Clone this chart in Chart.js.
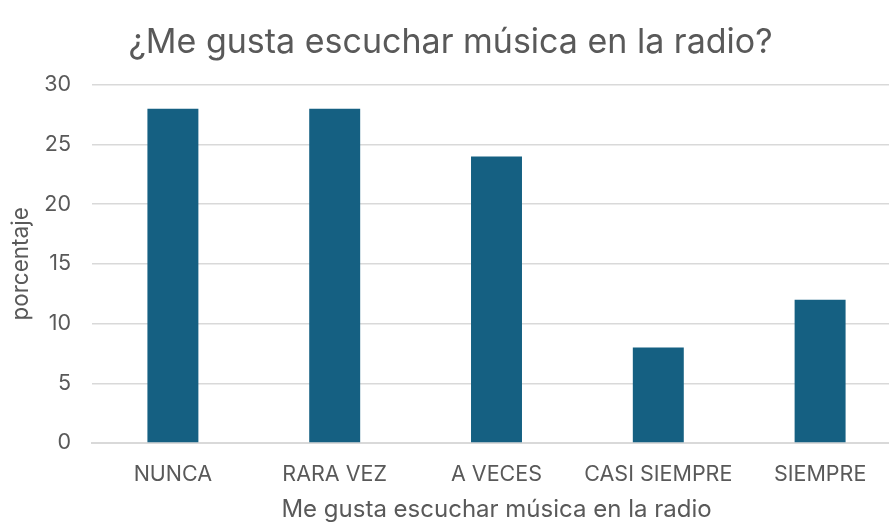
<!DOCTYPE html>
<html><head><meta charset="utf-8">
<script src="https://cdn.jsdelivr.net/npm/chart.js@4/dist/chart.umd.min.js"></script>
<style>html,body{margin:0;padding:0;background:#fff;overflow:hidden;width:889px;height:524px}canvas{display:block}</style>
</head><body>
<canvas id="c" width="901" height="524"></canvas>
<script>
const categories = ["NUNCA", "RARA VEZ", "A VECES", "CASI SIEMPRE", "SIEMPRE"];
const values = [28, 28, 24, 8, 12];
const titleText = "¿Me gusta escuchar música en la radio?";
const xTitle = "Me gusta escuchar música en la radio";
const yTitle = "porcentaje";
const FONT = "Inter, 'Open Sans', sans-serif";
const TXT = "#595959";
new Chart(document.getElementById("c"), {
  type: "bar",
  data: { labels: categories, datasets: [{ data: values, backgroundColor: "#156082", barPercentage: 0.315, categoryPercentage: 1.0 }] },
  options: {
    responsive: false, animation: false, devicePixelRatio: 1,
    layout: { padding: { left: 0, right: 0, top: 0, bottom: 0 } },
    plugins: {
      legend: { display: false }, tooltip: { enabled: false },
      title: { display: true, text: titleText, color: TXT, font: { family: FONT, size: 34, weight: "normal" }, padding: { top: 22, bottom: 22 } }
    },
    scales: {
      x: {
        grid: { display: false },
        border: { color: "#d9d9d9", width: 2 },
        ticks: { color: TXT, font: { family: FONT, size: 21.5 }, padding: 11 },
        title: { display: true, text: xTitle, color: TXT, font: { family: FONT, size: 24 }, padding: { top: 8, bottom: 0 } },
        afterFit: s => { s.height = 81; }
      },
      y: {
        min: 0, max: 30,
        ticks: { stepSize: 5, color: TXT, font: { family: FONT, size: 21.5 }, padding: 21 },
        grid: { color: "#d9d9d9", lineWidth: 1.5, drawTicks: false },
        border: { display: false },
        title: { display: true, text: yTitle, color: TXT, font: { family: FONT, size: 22.5 }, padding: { top: 8, bottom: 6 } },
        afterFit: s => { s.width = 92; }
      }
    }
  }
});
</script>
</body></html>
